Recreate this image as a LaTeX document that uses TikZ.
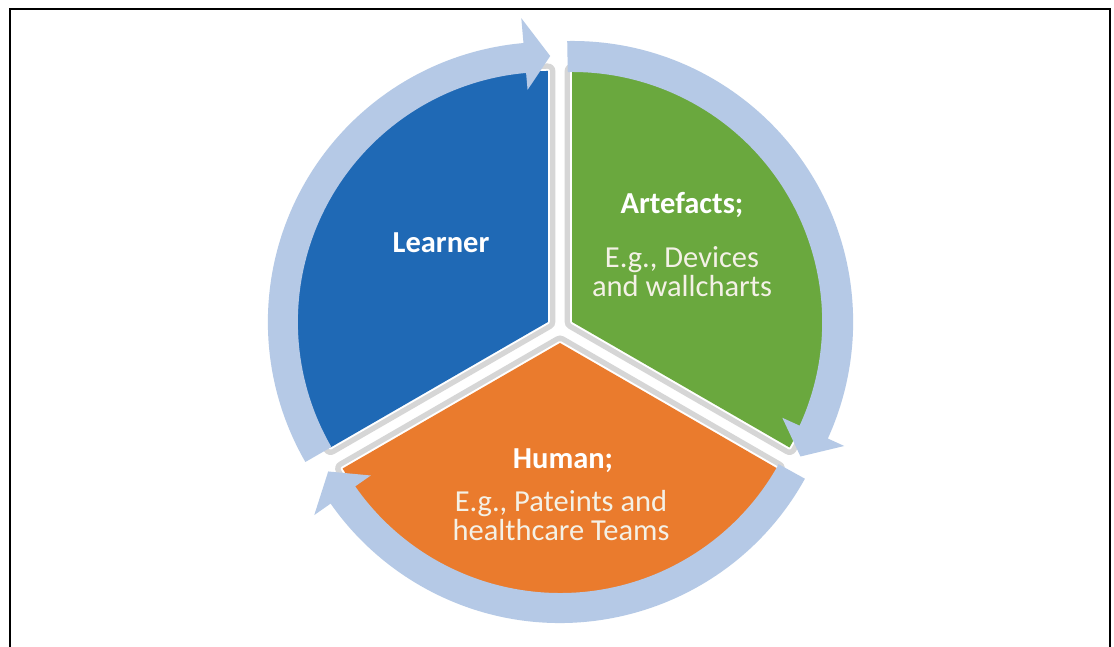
\documentclass[tikz,border=0pt]{standalone}
\usepackage{fontspec}
\setmainfont{Carlito}
\usetikzlibrary{calc}
\definecolor{lblue}{HTML}{1F69B5}
\definecolor{lgreen}{HTML}{6AA83E}
\definecolor{lorange}{HTML}{EA7B2D}
\definecolor{ringc}{HTML}{B5C9E6}
\definecolor{gapc}{HTML}{D6D6D6}
\definecolor{bodyc}{HTML}{F4F1E6}
\begin{document}
\begin{tikzpicture}[x=1pt,y=1pt,
  sector/.style={line join=round,
    preaction={draw=gapc, line width=15pt, line join=round},
    preaction={draw=white, line width=4pt, line join=round}},
  ringarrow/.style={fill=ringc},
  ttl/.style={text=white, font=\fontsize{30.5}{29}\selectfont\bfseries, align=center},
  body/.style={text=bodyc, font=\fontsize{30.5}{29}\selectfont, align=center}]
\useasboundingbox (0,0) rectangle (1114,647);
\fill[white] (0,0) rectangle (1114,647);
\draw[line width=2pt] (10,0) -- (10,638) -- (1110,638) -- (1110,0);

\coordinate (C) at (560,318);
\coordinate (B) at ($(C)+(150:14)$);
\coordinate (G) at ($(C)+(30:14)$);
\coordinate (O) at ($(C)+(270:14)$);

% sectors
\fill[lblue, sector] (B) -- ($(B)+(90:251)$) arc[start angle=90, end angle=210, radius=251] -- cycle;
\fill[lgreen, sector] (G) -- ($(G)+(90:251)$) arc[start angle=90, end angle=-30, radius=251] -- cycle;
\fill[lorange, sector] (O) -- ($(O)+(-30:251)$) arc[start angle=-30, end angle=-150, radius=251] -- cycle;

% ring arrows
\fill[ringarrow] ($(B)+(210:280)$) arc[start angle=210, end angle=95, radius=280]
  -- ($(B)+(95:305)$) -- ($(B)+(89.5:266)$) -- ($(B)+(95:233)$) -- ($(B)+(95:250)$)
  arc[start angle=95, end angle=210, radius=250] -- cycle;
\fill[ringarrow] ($(G)+(91:281)$) arc[start angle=91, end angle=-24.5, radius=281]
  -- ($(G)+(-24.5:299)$) -- ($(G)+(-30.5:265)$) -- ($(G)+(-24.5:231)$) -- ($(G)+(-24.5:250)$)
  arc[start angle=-24.5, end angle=91, radius=250] -- cycle;
\fill[ringarrow] ($(O)+(-29:280)$) arc[start angle=-29, end angle=-145, radius=280]
  -- ($(O)+(-145:300)$) -- ($(O)+(-151:265)$) -- ($(O)+(-145:231)$) -- ($(O)+(-145:250)$)
  arc[start angle=-145, end angle=-29, radius=250] -- cycle;

% texts
\node[ttl] (learner) at (441,404) {Learner};
\node[ttl] (art) at (682,442) {Artefacts;};
\node[body] (artb) at (682,375) {E.g., Devices\\and wallcharts};
\node[ttl] (hum) at (563,186) {Human;};
\node[body] (humb) at (561,131) {E.g., Pateints and\\healthcare Teams};
\end{tikzpicture}
\end{document}
